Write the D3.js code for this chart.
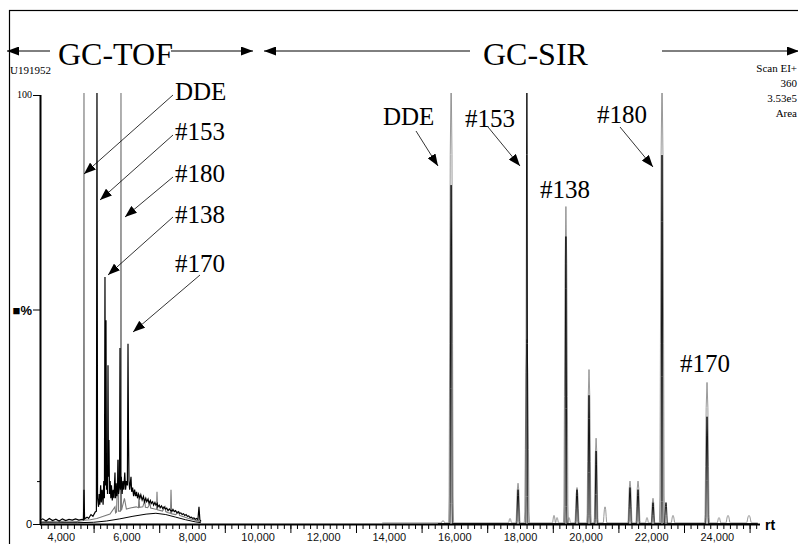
<!DOCTYPE html>
<html>
<head>
<meta charset="utf-8">
<script src="https://cdn.jsdelivr.net/npm/d3@7"></script>
<style>
  body { margin: 0; background: #fff; }
  svg { display: block; }
</style>
</head>
<body>
<script>
// chromatogram values: [scan, % intensity]
var tofBlack = [
  [3366,0.8],[3450,1.2],[3550,0.7],[3650,1.3],[3750,0.8],[3850,1.1],[3950,0.7],[4050,1.2],
  [4150,0.8],[4250,1.1],[4350,0.9],[4450,1.2],[4550,0.9],[4650,1.1],[4690,1.0],[4707,8],
  [4725,1.2],[4800,1.6],[4850,1.3],[4920,2.2],[4980,1.8],[5050,2.8],[5085,3],[5103,105],[5121,6],
  [5150,4],[5170,7],[5190,4.5],[5215,9],[5235,5],[5260,8],[5290,4.5],[5310,10],[5330,6],
  [5347,57.6],[5362,9],[5378,47.5],[5393,8],[5410,12],[5425,7],[5439,37],[5452,11],
  [5469,19.6],[5485,7],[5505,10],[5525,6],[5545,9],[5570,5.5],[5595,8],[5620,6],[5652,12],
  [5668,6],[5690,9.5],[5710,6.5],[5730,8],[5744,15],[5762,7],[5790,9],[5805,41],[5820,8],
  [5845,11],[5870,7],[5895,10],[5920,8],[5950,12],[5975,8],[6000,10],[6030,9],[6049,42],
  [6065,20],[6080,10],[6100,8],[6120,9.5],[6140,11],[6160,7.5],[6190,8.5],[6220,6.5],[6250,8],
  [6280,6.5],[6310,7.5],[6340,6],[6370,7],[6410,6],[6440,6.8],[6480,5.6],[6520,6.4],[6550,5.2],
  [6590,6],[6620,5.2],[6660,5.8],[6690,4.8],[6730,5.5],[6760,4.8],[6800,5.2],[6830,4.4],[6870,5],
  [6900,4.4],[6940,4.8],[6960,4],[7000,4.4],[7030,3.8],[7070,4.2],[7110,3.6],[7150,4],[7190,3.5],
  [7230,3.7],[7270,3.1],[7310,3.5],[7340,3.2],[7390,3],[7420,3.4],[7460,2.9],[7500,3.1],[7540,2.6],
  [7580,2.9],[7620,2.5],[7660,2.6],[7700,2.2],[7740,2.4],[7780,2],[7820,2.2],[7860,1.8],[7900,1.9],
  [7940,1.5],[7980,1.6],[8020,1.3],[8060,1.4],[8100,1.1],[8140,1.3],[8180,1],[8213,4],[8240,1],[8274,0.6]
];
var tofGray = [
  [3366,0.5],[3600,0.6],[3900,0.5],[4200,0.7],[4500,0.6],[4690,0.8],[4707,105],[4722,0.9],
  [4900,1],[5100,1.3],[5300,1.8],[5500,2.3],[5652,4],[5670,2.6],[5700,2.8],[5744,15],[5760,3],
  [5820,3],[5835,105],[5850,3.2],[5940,6],[6000,3.5],[6150,3.8],[6300,4.0],[6370,3.8],[6384,6.8],
  [6400,3.9],[6500,4.0],[6560,5.5],[6580,3.9],[6650,3.8],[6720,4.8],[6740,3.7],[6800,3.6],
  [6920,3.4],[6933,7.5],[6950,3.3],[7100,3.0],[7180,4],[7200,2.9],[7250,2.7],[7345,2.5],[7360,8],
  [7380,2.4],[7500,2.2],[7600,2.8],[7620,2],[7700,1.8],[7900,1.3],[8100,0.9],[8274,0.5]
];
var tofHump = [
  [3366,0.3],[4500,0.3],[5000,0.4],[5400,0.7],[5800,1.2],[6200,1.8],[6600,2.3],[6900,2.5],
  [7200,2.2],[7500,1.6],[7800,1.0],[8100,0.5],[8274,0.3]
];

// SIR peaks: [scan, % height, half width in scans]
var sirGrayPeaks = [
  [15653,0.8,60],[15900,105,75],[17696,1.3,50],[17940,9.5,70],[18210,43,80],[19037,2,50],
  [19129,1.5,50],[19400,74,75],[19494,1.5,50],[19738,8.5,70],[20104,36,70],[20320,20,65],
  [20592,4,60],[21354,10,70],[21598,10,70],[21872,1.5,50],[22055,6,60],[22330,105,80],
  [22665,2,60],[23702,33,75],[24067,1.5,60],[24342,2,70],[24982,2,80]
];
var sirBlackPeaks = [
  [15900,79,35],[17940,8,40],[18210,105,30],[19400,67,30],[19738,8,40],[20104,30,35],
  [20320,17,35],[21354,8.5,40],[21598,8,40],[22055,5,40],[22330,86,30],[22451,5,45],[23702,25,40]
];
var sirGrayRange = [13800, 25250];
var sirBlackRange = [15500, 25250];

var xTickLabels = [4000, 6000, 8000, 10000, 12000, 14000, 16000, 18000, 20000, 22000, 24000];

var compoundsTof = ["DDE", "#153", "#180", "#138", "#170"];
var compoundsSir = ["DDE", "#153", "#138", "#180", "#170"];

var svgWidth = 798;
var svgHeight = 544;

var svg = d3.select("body")
  .append("svg")
  .attr("width", svgWidth)
  .attr("height", svgHeight)
  .style("background", "#fff");

var x = d3.scaleLinear().domain([3366, 25317]).range([40, 760]);
var y = d3.scaleLinear().domain([0, 100]).range([524, 95]);

// outer frame (runs off the right and bottom of the picture)
svg.append("rect")
  .attr("x", 9.5).attr("y", 10.5)
  .attr("width", 900).attr("height", 700)
  .attr("fill", "none").attr("stroke", "#000").attr("stroke-width", 1.2);

var defs = svg.append("defs");
defs.append("clipPath").attr("id", "plot")
  .append("rect").attr("x", 38).attr("y", 93).attr("width", 724).attr("height", 433);

defs.append("marker")
  .attr("id", "head")
  .attr("viewBox", "0 0 12 9")
  .attr("refX", 12).attr("refY", 4.5)
  .attr("markerWidth", 12).attr("markerHeight", 9)
  .attr("markerUnits", "userSpaceOnUse")
  .attr("orient", "auto")
  .append("path").attr("d", "M0,0L12,4.5L0,9Z").attr("fill", "#000");

// turns a peak table into a trace, with a fixed peak profile
var profile = [[-1,0],[-0.8,0.06],[-0.6,0.4],[-0.35,0.82],[0,1],[0.35,0.82],[0.6,0.4],[0.8,0.06],[1,0]];
function peakTrace(peaks, range, base) {
  var pts = [[range[0], base]];
  peaks.slice().sort(function(a, b) { return a[0] - b[0]; }).forEach(function(p) {
    profile.forEach(function(f) {
      pts.push([p[0] + f[0] * p[2], base + f[1] * (p[1] - base)]);
    });
  });
  pts.push([range[1], base]);
  return pts;
}

var line = d3.line()
  .x(function(d) { return x(d[0]); })
  .y(function(d) { return y(d[1]); });

var traces = svg.append("g").attr("clip-path", "url(#plot)");

traces.append("path").datum(tofHump)
  .attr("d", line).attr("fill", "none").attr("stroke", "#000").attr("stroke-width", 1);
traces.append("path").datum(tofGray)
  .attr("d", line).attr("fill", "none").attr("stroke", "#7a7a7a").attr("stroke-width", 1.1);
traces.append("path").datum(tofBlack)
  .attr("d", line).attr("fill", "none").attr("stroke", "#000").attr("stroke-width", 1.2);

traces.append("path").datum(peakTrace(sirGrayPeaks, sirGrayRange, 0.25))
  .attr("d", line).attr("fill", "none").attr("stroke", "#808080").attr("stroke-width", 0.8);
traces.append("path").datum(peakTrace(sirBlackPeaks, sirBlackRange, 0.1))
  .attr("d", line).attr("fill", "none").attr("stroke", "#000").attr("stroke-width", 0.9);

// axes
var xMinor = d3.range(3400, 25201, 200);
var xMajor = d3.range(5000, 25001, 1000).filter(function(d) { return d % 2000 === 1000; });

svg.append("g")
  .attr("transform", "translate(0,525)")
  .call(d3.axisBottom(x).tickValues(xMinor).tickSize(4).tickFormat("").tickSizeOuter(0))
  .call(function(g) { g.select(".domain").remove(); });
svg.append("g")
  .attr("transform", "translate(0,525)")
  .call(d3.axisBottom(x).tickValues(xMajor).tickSize(8).tickFormat("").tickSizeOuter(0))
  .call(function(g) { g.select(".domain").remove(); });
svg.append("g")
  .attr("transform", "translate(0,525)")
  .call(d3.axisBottom(x).tickValues(xTickLabels).tickSize(0).tickPadding(8).tickFormat(d3.format(",")))
  .call(function(g) {
    g.select(".domain").remove();
    g.selectAll("text").attr("font-family", "Liberation Sans, Arial, sans-serif").attr("font-size", 11).attr("fill", "#111");
  });

svg.append("line")
  .attr("x1", 40).attr("x2", 760).attr("y1", 524.5).attr("y2", 524.5)
  .attr("stroke", "#000").attr("stroke-width", 2);

svg.append("g")
  .attr("transform", "translate(40,0)")
  .call(d3.axisLeft(y).tickValues([0, 50, 100]).tickSize(7).tickFormat("").tickSizeOuter(0))
  .call(function(g) { g.select(".domain").remove(); });
svg.append("g")
  .attr("transform", "translate(40,0)")
  .call(d3.axisLeft(y).tickValues([10]).tickSize(3).tickFormat("").tickSizeOuter(0))
  .call(function(g) { g.select(".domain").remove(); });
svg.append("line")
  .attr("x1", 40.5).attr("x2", 40.5).attr("y1", 95).attr("y2", 525)
  .attr("stroke", "#000").attr("stroke-width", 2);

svg.append("text").attr("x", 32).attr("y", y(100) + 3)
  .attr("text-anchor", "end").attr("font-family", "Liberation Serif, serif").attr("font-size", 10)
  .text("100");
svg.append("text").attr("x", 32).attr("y", y(0) + 4)
  .attr("text-anchor", "end").attr("font-family", "Liberation Sans, sans-serif").attr("font-size", 11)
  .text("0");
svg.append("text").attr("x", 32).attr("y", y(50) + 5)
  .attr("text-anchor", "end").attr("font-family", "Liberation Sans, sans-serif").attr("font-size", 13)
  .attr("font-weight", "bold")
  .text("■%");
svg.append("text").attr("x", 765).attr("y", 530)
  .attr("font-family", "Liberation Sans, sans-serif").attr("font-size", 14).attr("font-weight", "bold")
  .text("rt");

// header texts
svg.append("text").attr("x", 10).attr("y", 74)
  .attr("font-family", "Liberation Serif, serif").attr("font-size", 11)
  .text("U191952");
var info = ["Scan EI+", "360", "3.53e5", "Area"];
svg.selectAll(".info").data(info).enter().append("text")
  .attr("class", "info")
  .attr("x", 797).attr("y", function(d, i) { return 72 + i * 15; })
  .attr("text-anchor", "end")
  .attr("font-family", "Liberation Serif, serif").attr("font-size", 11)
  .text(function(d) { return d; });

// range arrows: two segments either side of the title
function rangeArrow(left, right, label, tx) {
  svg.append("line")
    .attr("x1", left[1]).attr("x2", left[0])
    .attr("y1", 51).attr("y2", 51)
    .attr("stroke", "#000").attr("stroke-width", 1)
    .attr("marker-end", "url(#head)");
  svg.append("line")
    .attr("x1", right[0]).attr("x2", right[1])
    .attr("y1", 51).attr("y2", 51)
    .attr("stroke", "#000").attr("stroke-width", 1)
    .attr("marker-end", "url(#head)");
  svg.append("text")
    .attr("x", tx).attr("y", 65)
    .attr("font-family", "Liberation Serif, Times New Roman, serif").attr("font-size", 32)
    .text(label);
}
rangeArrow([7, 50], [171, 253], "GC-TOF", 58);
rangeArrow([264, 470], [662, 799], "GC-SIR", 483);

// compound labels with arrows: text x, y, then line start and arrow tip
var tofLabelPos = [[175, 100, 173, 95, 84, 174], [175, 140, 173, 135, 100, 200], [175, 182, 173, 177, 125, 217],
                   [175, 223, 173, 217, 108, 275], [175, 272, 200, 275, 133, 332]];
var sirLabelPos = [[383, 125, 416, 131, 438, 166], [465, 127, 488, 127, 520, 166], [540, 198, null, null, null, null],
                   [597, 123, 620, 127, 653, 167], [680, 372, null, null, null, null]];

function labels(names, pos) {
  names.forEach(function(n, i) {
    var p = pos[i];
    svg.append("text").attr("x", p[0]).attr("y", p[1])
      .attr("font-family", "Liberation Serif, Times New Roman, serif").attr("font-size", 25)
      .text(n);
    if (p[2] !== null) {
      svg.append("line")
        .attr("x1", p[2]).attr("y1", p[3]).attr("x2", p[4]).attr("y2", p[5])
        .attr("stroke", "#000").attr("stroke-width", 0.8)
        .attr("marker-end", "url(#head)");
    }
  });
}
labels(compoundsTof, tofLabelPos);
labels(compoundsSir, sirLabelPos);
</script>
</body>
</html>
